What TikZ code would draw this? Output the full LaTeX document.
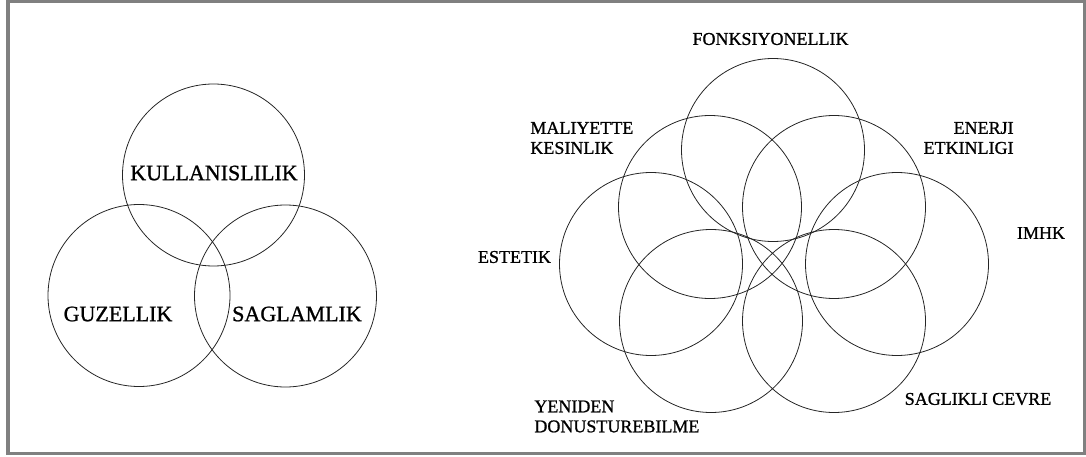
\documentclass[tikz,border=0pt]{standalone}
\usepackage{fontspec}
\setmainfont{Liberation Serif}
\newfontfamily\lblfont{Liberation Serif}[FakeBold=1]

\begin{document}
\begin{tikzpicture}[x=1pt, y=-1pt, line width=0.8pt,
    big/.style={inner sep=0pt, font=\lblfont\fontsize{22}{24}\selectfont},
    small/.style={inner sep=0pt, font=\lblfont\fontsize{18}{20}\selectfont}]

    % constants
    \def\rl{91pt}
    \def\rr{91.5pt}

    \useasboundingbox (0,0) rectangle (1086,457);

    % frame
    \draw[line width=3.5pt, color=gray] (8,1.75) rectangle (1084.25,453.5);

    % three circles
    \draw[color=black!85] (213.5,175) circle [radius=\rl];
    \draw[color=black!85] (139,295.5) circle [radius=\rl];
    \draw[color=black!85] (285.5,296) circle [radius=\rl];

    \node[big] (kul) at (214,173) {KULLANISLILIK};
    \node[big] (guz) at (118,314) {GUZELLIK};
    \node[big] (sag) at (297,314) {SAGLAMLIK};

    % seven circles
    \draw[color=black!85] (773,150) circle [radius=\rr];
    \draw[color=black!85] (710,207) circle [radius=\rr];
    \draw[color=black!85] (834,207) circle [radius=\rr];
    \draw[color=black!85] (651,264) circle [radius=\rr];
    \draw[color=black!85] (897,264) circle [radius=\rr];
    \draw[color=black!85] (711,321) circle [radius=\rr];
    \draw[color=black!85] (834,321) circle [radius=\rr];

    \node[small] (fonk) at (770.5,39) {FONKSIYONELLIK};
    \node[small, anchor=west, align=left] (mal) at (530,138) {MALIYETTE\\KESINLIK};
    \node[small, anchor=east, align=right] (ener) at (1014,138) {ENERJI\\ETKINLIGI};
    \node[small] (imhk) at (1041,233) {IMHK};
    \node[small] (est) at (514.5,257) {ESTETIK};
    \node[small, anchor=west, align=left] (yen) at (534,416.5) {YENIDEN\\DONUSTUREBILME};
    \node[small] (cevre) at (978,399) {SAGLIKLI CEVRE};

\end{tikzpicture}
\end{document}
